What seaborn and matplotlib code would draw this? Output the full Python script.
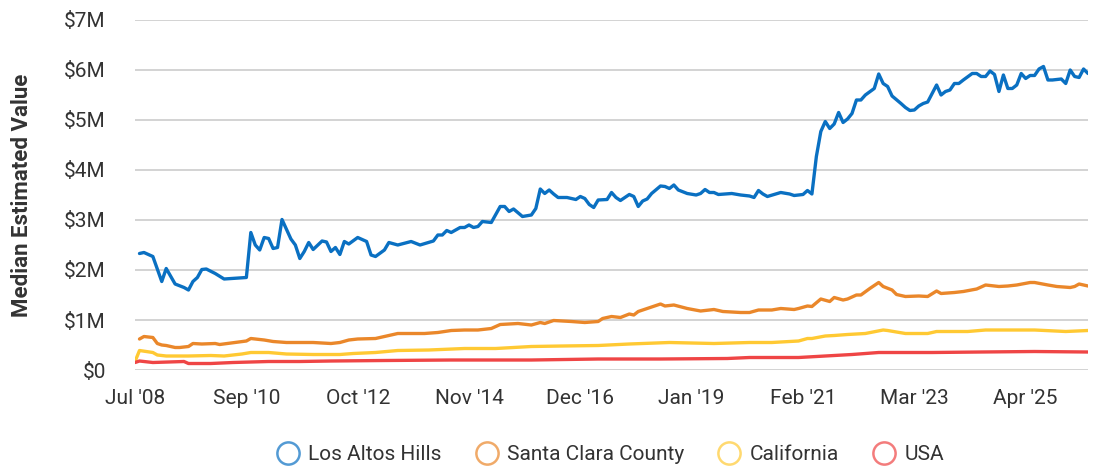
import matplotlib
matplotlib.use("Agg")

import pandas as pd
import matplotlib.pyplot as plt
import seaborn as sns
from matplotlib.lines import Line2D
from matplotlib.ticker import FuncFormatter

# x is a month counter starting at Jul 2008, values in $M

tick_months = [0, 25, 50, 75, 100, 125, 150, 175, 200]
tick_labels = ["Jul '08", "Sep '10", "Oct '12", "Nov '14", "Dec '16",
               "Jan '19", "Feb '21", "Mar '23", "Apr '25"]

series_names = ["Los Altos Hills", "Santa Clara County", "California", "USA"]
series_colors = ["#0a70c2", "#ea872a", "#ffc933", "#ef4545"]

lah_month = [1, 2, 4, 6, 7, 9, 11, 12, 13, 14, 15, 16, 18, 20, 25, 26, 27, 28, 29, 30,
             31, 32, 33, 35, 36, 37, 38, 39, 40, 42, 43, 44, 45, 46, 47, 48, 50, 52, 53, 54,
             56, 57, 59, 62, 64, 67, 68, 69, 70, 71, 73, 74, 75, 76, 77, 78, 80, 82, 83, 84,
             85, 87, 89, 90, 91, 92, 93, 94, 95, 97, 99, 100, 101, 102, 103, 104, 106, 107, 108, 109,
             111, 112, 113, 114, 115, 116, 118, 119, 120, 121, 122, 124, 126, 127, 128, 129, 130, 131, 134, 136,
             138, 139, 140, 141, 142, 145, 147, 148, 150, 151, 152, 153, 154, 155, 156, 157, 158, 159, 160, 161,
             162, 163, 164, 166, 167, 168, 169, 170, 172, 173, 174, 175, 176, 177, 178, 180, 181, 182, 183, 184,
             185, 186, 188, 189, 190, 191, 192, 193, 194, 195, 196, 197, 198, 199, 200, 201, 202, 203, 204, 205,
             206, 208, 209, 210, 211, 212, 213, 214]
lah_value = [2.33, 2.35, 2.27, 1.77, 2.03, 1.72, 1.65, 1.60, 1.77, 1.85, 2.01, 2.02, 1.93, 1.82, 1.85, 2.75, 2.50, 2.40, 2.65, 2.63,
             2.43, 2.45, 3.01, 2.62, 2.50, 2.23, 2.37, 2.55, 2.41, 2.58, 2.56, 2.37, 2.45, 2.31, 2.57, 2.52, 2.65, 2.57, 2.30, 2.27,
             2.40, 2.55, 2.50, 2.57, 2.50, 2.58, 2.70, 2.70, 2.79, 2.75, 2.85, 2.85, 2.90, 2.85, 2.87, 2.97, 2.95, 3.27, 3.27, 3.17,
             3.22, 3.07, 3.10, 3.23, 3.62, 3.53, 3.60, 3.52, 3.45, 3.45, 3.41, 3.47, 3.43, 3.31, 3.25, 3.40, 3.41, 3.55, 3.45, 3.39,
             3.51, 3.47, 3.27, 3.38, 3.42, 3.53, 3.68, 3.67, 3.63, 3.70, 3.60, 3.53, 3.50, 3.53, 3.61, 3.55, 3.55, 3.51, 3.53, 3.50,
             3.48, 3.45, 3.59, 3.52, 3.47, 3.55, 3.52, 3.49, 3.51, 3.59, 3.52, 4.27, 4.77, 4.97, 4.83, 4.92, 5.15, 4.95, 5.02, 5.13,
             5.40, 5.40, 5.50, 5.63, 5.92, 5.73, 5.67, 5.48, 5.33, 5.25, 5.19, 5.20, 5.28, 5.33, 5.36, 5.70, 5.50, 5.57, 5.60, 5.73,
             5.73, 5.80, 5.93, 5.93, 5.87, 5.87, 5.98, 5.91, 5.57, 5.90, 5.63, 5.63, 5.70, 5.93, 5.83, 5.89, 5.89, 6.02, 6.07, 5.80,
             5.80, 5.82, 5.73, 6.00, 5.87, 5.85, 6.02, 5.93]

scc_month = [1, 2, 4, 5, 6, 7, 9, 10, 12, 13, 15, 18, 19, 25, 26, 29, 31, 34, 37, 40,
             44, 46, 48, 50, 54, 56, 59, 62, 65, 68, 71, 74, 77, 80, 82, 86, 89, 91, 92, 94,
             98, 101, 104, 105, 107, 109, 111, 112, 113, 115, 118, 119, 121, 124, 127, 130, 132, 136, 138, 140,
             143, 145, 148, 149, 151, 152, 154, 156, 157, 159, 160, 162, 163, 165, 167, 168, 170, 171, 173, 176,
             178, 180, 181, 184, 186, 189, 191, 192, 194, 196, 198, 201, 202, 205, 207, 210, 211, 212, 214]
scc_value = [0.62, 0.67, 0.65, 0.53, 0.50, 0.49, 0.45, 0.45, 0.47, 0.53, 0.52, 0.53, 0.51, 0.58, 0.63, 0.60, 0.57, 0.55, 0.55, 0.55,
             0.53, 0.55, 0.60, 0.62, 0.63, 0.67, 0.73, 0.73, 0.73, 0.75, 0.79, 0.80, 0.80, 0.83, 0.91, 0.93, 0.90, 0.95, 0.93, 0.99,
             0.97, 0.95, 0.97, 1.03, 1.07, 1.05, 1.12, 1.10, 1.17, 1.23, 1.32, 1.28, 1.30, 1.23, 1.18, 1.21, 1.17, 1.15, 1.15, 1.20,
             1.20, 1.23, 1.21, 1.23, 1.28, 1.27, 1.42, 1.37, 1.45, 1.40, 1.42, 1.50, 1.50, 1.63, 1.75, 1.67, 1.60, 1.51, 1.47, 1.48,
             1.47, 1.58, 1.53, 1.55, 1.57, 1.62, 1.70, 1.69, 1.67, 1.68, 1.70, 1.75, 1.75, 1.70, 1.67, 1.65, 1.67, 1.72, 1.68]

ca_month = [0, 1, 4, 5, 7, 12, 17, 20, 24, 26, 30, 34, 40, 46, 49, 54, 59, 66, 74, 81,
            89, 96, 104, 111, 120, 130, 138, 143, 149, 151, 152, 155, 157, 160, 164, 168, 169, 173, 178, 180,
            187, 191, 202, 209, 214]
ca_value = [0.17, 0.39, 0.35, 0.30, 0.28, 0.28, 0.29, 0.28, 0.32, 0.35, 0.35, 0.32, 0.31, 0.31, 0.33, 0.35, 0.39, 0.40, 0.43, 0.43,
            0.47, 0.48, 0.49, 0.52, 0.55, 0.53, 0.55, 0.55, 0.58, 0.63, 0.63, 0.68, 0.69, 0.71, 0.73, 0.80, 0.79, 0.73, 0.73, 0.77,
            0.77, 0.80, 0.80, 0.77, 0.79]

usa_month = [0, 1, 4, 11, 12, 17, 22, 30, 37, 44, 56, 71, 89, 104, 118, 133, 138, 149, 153, 161,
             167, 179, 190, 202, 214]
usa_value = [0.15, 0.18, 0.15, 0.17, 0.13, 0.13, 0.15, 0.17, 0.17, 0.18, 0.19, 0.20, 0.20, 0.22, 0.22, 0.23, 0.25, 0.25, 0.27, 0.31,
             0.35, 0.35, 0.36, 0.37, 0.36]

# Long-form table for seaborn

frames = []
for name, months, values in [
    ("Los Altos Hills", lah_month, lah_value),
    ("Santa Clara County", scc_month, scc_value),
    ("California", ca_month, ca_value),
    ("USA", usa_month, usa_value),
]:
    frames.append(pd.DataFrame({"month": months, "value": values, "area": name}))
df = pd.concat(frames, ignore_index=True)

# Plot

sns.set_theme(style="white")
plt.rcParams["font.family"] = ["Roboto", "DejaVu Sans"]

fig = plt.figure(figsize=(10.97, 4.67), dpi=100)
ax = fig.add_axes([0.1231, 0.2077, 0.8687, 0.7495])

sns.lineplot(
    data=df,
    x="month",
    y="value",
    hue="area",
    hue_order=series_names,
    palette=series_colors,
    linewidth=2.4,
    legend=False,
    ax=ax,
)

ax.set_xlim(0, 214)
ax.set_ylim(0, 7)
ax.set_yticks(range(0, 8))
ax.yaxis.set_major_formatter(FuncFormatter(lambda v, p: "$0" if v == 0 else f"${int(v)}M"))
ax.set_xticks(tick_months)
ax.set_xticklabels(tick_labels)

ax.grid(axis="y", color="#cccccc", linewidth=1.2)
ax.grid(axis="x", visible=False)
ax.set_axisbelow(True)
for s in ax.spines.values():
    s.set_visible(False)

ax.tick_params(axis="y", length=0, pad=21, labelsize=15, labelcolor="#333333")
ax.tick_params(axis="x", length=0, pad=14, labelsize=15, labelcolor="#333333")

ax.set_xlabel("")
ax.set_ylabel("Median Estimated Value", fontsize=16, fontweight="bold", color="#333333")
ax.yaxis.set_label_coords(-0.107, 0.5)

handles = [
    Line2D([], [], marker="o", linestyle="none", markersize=16,
           markerfacecolor="none", markeredgecolor=c, markeredgewidth=1.8, alpha=0.7)
    for c in series_colors
]
fig.legend(
    handles,
    series_names,
    loc="center",
    bbox_to_anchor=(0.555, 1 - 455 / 467),
    ncol=4,
    frameon=False,
    fontsize=15,
    handlelength=1.4,
    handletextpad=0.3,
    columnspacing=1.45,
    labelcolor="#333333",
)

fig.savefig("out.png", dpi=100)
